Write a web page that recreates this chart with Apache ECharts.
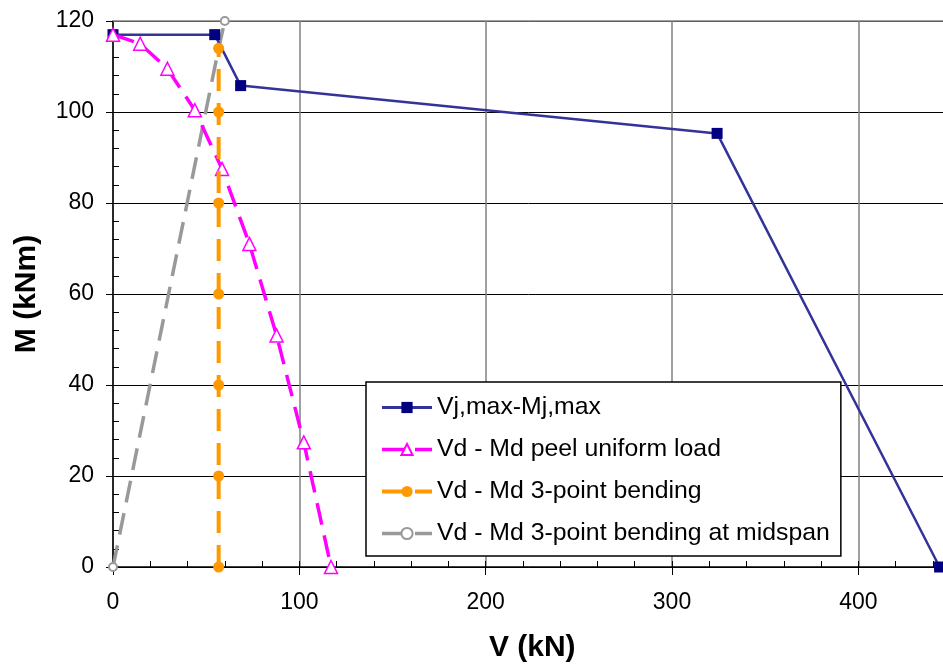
<!DOCTYPE html>
<html>
<head>
<meta charset="utf-8">
<script src="https://cdn.jsdelivr.net/npm/echarts@6/dist/echarts.min.js"></script>
<style>html,body{margin:0;padding:0;background:#fff}#c{width:943px;height:666px}</style>
</head>
<body>
<div id="c"></div>
<script>
// Data
var vjV = [0, 54.6, 68.5, 324.2, 443.6];
var vjM = [117, 117, 105.8, 95.3, 0];

var peelV = [0, 14.6, 29.2, 43.9, 58.5, 73.2, 87.8, 102.4, 117];
var peelM = [117, 115, 109.5, 100.4, 87.5, 71.0, 50.9, 27.4, 0];

var bendV = [56.7, 56.7, 56.7, 56.7, 56.7, 56.7, 56.7];
var bendM = [0, 20, 40, 60, 80, 100, 114];

var midV = [0, 56.7, 60];
var midM = [0, 114, 120];

var names = ['Vj,max-Mj,max', 'Vd - Md peel uniform load', 'Vd - Md 3-point bending', 'Vd - Md 3-point bending at midspan'];

function pairs(xs, ys) { return xs.map(function (x, i) { return [x, ys[i]]; }); }

var FONT = '"Liberation Sans", Arial, sans-serif';
var chart = echarts.init(document.getElementById('c'), null, { renderer: 'canvas' });
chart.setOption({
  animation: false,
  backgroundColor: '#fff',
  textStyle: { fontFamily: FONT },
  grid: { left: 113, top: 21, width: 838.5, height: 546, containLabel: false, outerBoundsMode: 'none' },
  xAxis: [{
    type: 'value', min: 0, max: 450, interval: 100,
    name: 'V (kN)', nameLocation: 'middle', nameGap: 66,
    nameTextStyle: { fontSize: 30, fontWeight: 'bold', color: '#000', fontFamily: FONT },
    axisLine: { show: true, lineStyle: { color: '#000', width: 1.5 } },
    axisTick: { show: true, inside: false, length: 8, lineStyle: { color: '#000' } },
    minorTick: { show: false },
    axisLabel: { fontSize: 23, color: '#000', margin: 24, fontFamily: FONT,
      formatter: function (v) { return v % 100 === 0 ? String(v) : ''; } },
    splitLine: { show: true, lineStyle: { color: '#808080', width: 1.5 } }
  }, {
    type: 'value', min: 0, max: 450, interval: 100, position: 'bottom',
    axisLine: { show: false },
    axisTick: { show: true, inside: true, length: 6, lineStyle: { color: '#000' } },
    minorTick: { show: true, splitNumber: 5, length: 6, lineStyle: { color: '#000' } },
    axisLabel: { show: false },
    splitLine: { show: false }
  }],
  yAxis: [{
    type: 'value', min: 0, max: 120, interval: 20,
    name: 'M (kNm)', nameLocation: 'middle', nameGap: 71,
    nameTextStyle: { fontSize: 30, fontWeight: 'bold', color: '#000', fontFamily: FONT },
    axisLine: { show: true, lineStyle: { color: '#000', width: 1.5 } },
    axisTick: { show: true, inside: false, length: 7, lineStyle: { color: '#000' } },
    axisLabel: { fontSize: 23, color: '#000', margin: 19, fontFamily: FONT },
    splitLine: { show: true, lineStyle: { color: '#000', width: 1 } }
  }, {
    type: 'value', min: 0, max: 120, interval: 20, position: 'left',
    axisLine: { show: false },
    axisTick: { show: true, inside: true, length: 6, lineStyle: { color: '#000' } },
    minorTick: { show: true, splitNumber: 5, length: 6, lineStyle: { color: '#000' } },
    axisLabel: { show: false },
    splitLine: { show: false }
  }],
  legend: {
    orient: 'vertical', left: 366, top: 382,
    data: [
      { name: names[0], lineStyle: { width: 3 } },
      { name: names[1], lineStyle: { width: 3.5, type: [23, 10] } },
      { name: names[2], lineStyle: { width: 4, type: [23, 10] } },
      { name: names[3], lineStyle: { width: 3.5, type: [23, 10] } }
    ],
    itemWidth: 50, itemHeight: 14, itemGap: 17,
    backgroundColor: '#fff', borderColor: '#000', borderWidth: 1.5,
    padding: [13, 11, 10, 14], borderRadius: 0,
    textStyle: { fontSize: 24.8, color: '#000', fontFamily: FONT, lineHeight: 24 }
  },
  graphic: [{
    type: 'line', z: 1,
    shape: { x1: 113, y1: 21, x2: 943, y2: 21 },
    style: { stroke: '#808080', lineWidth: 1.5 }
  }],
  series: [{
    name: names[0], type: 'line', data: pairs(vjV, vjM), z: 3,
    symbol: 'rect', symbolSize: 11,
    lineStyle: { color: '#333399', width: 2.5 },
    itemStyle: { color: '#000080', borderWidth: 0 }
  }, {
    name: names[1], type: 'line', data: pairs(peelV, peelM), z: 4,
    symbol: 'triangle', symbolSize: 13,
    lineStyle: { color: '#FF00FF', width: 3.5, type: [22, 11] },
    itemStyle: { color: '#fff', borderColor: '#FF00FF', borderWidth: 1.5 }
  }, {
    name: names[2], type: 'line', data: pairs(bendV, bendM), z: 5,
    symbol: 'circle', symbolSize: 11,
    lineStyle: { color: '#FF9900', width: 4, type: [22, 12] },
    itemStyle: { color: '#FF9900', borderWidth: 0 }
  }, {
    name: names[3], type: 'line', data: pairs(midV, midM), z: 2,
    symbol: 'emptyCircle', symbolSize: 8,
    lineStyle: { color: '#999999', width: 3.5, type: [22, 11] },
    itemStyle: { color: '#999999', borderWidth: 1.2 }
  }]
});
</script>
</body>
</html>
